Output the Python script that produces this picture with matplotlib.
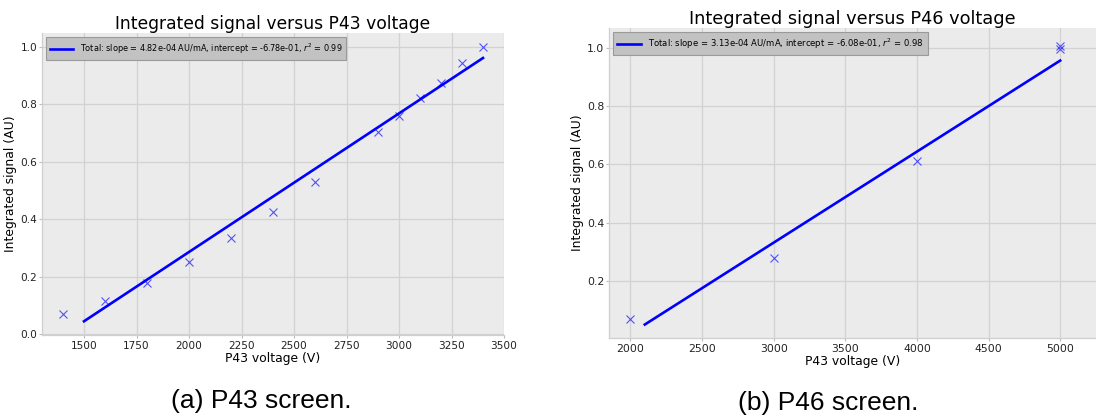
import numpy as np
import matplotlib
matplotlib.use("Agg")
import matplotlib.pyplot as plt

# ---- data ----
p43_voltage = [1400, 1600, 1800, 2000, 2200, 2400, 2600, 2900, 3000, 3100, 3200, 3300, 3400]
p43_signal = [0.071, 0.116, 0.177, 0.250, 0.336, 0.425, 0.528, 0.703, 0.758, 0.820, 0.875, 0.942, 1.000]
p43_slope, p43_intercept, p43_r2 = 4.82e-04, -6.78e-01, 0.99
p43_fit_range = [1500, 3400]

p46_voltage = [2000, 3000, 4000, 5000, 5000]
p46_signal = [0.067, 0.279, 0.610, 0.996, 1.008]
p46_slope, p46_intercept, p46_r2 = 3.13e-04, -6.08e-01, 0.98
p46_fit_range = [2100, 5000]

titles = ["Integrated signal versus P43 voltage", "Integrated signal versus P46 voltage"]
xlabel = "P43 voltage (V)"
ylabel = "Integrated signal (AU)"
captions = ["(a) P43 screen.", "(b) P46 screen."]

W, H = 1096, 420
fig = plt.figure(figsize=(W / 100, H / 100), dpi=100)
fig.patch.set_facecolor("white")

def px_axes(x0, y0, x1, y1):
    return fig.add_axes([x0 / W, 1 - y1 / H, (x1 - x0) / W, (y1 - y0) / H])

ax1 = px_axes(42, 33, 504, 335)
ax2 = px_axes(609, 28, 1096, 338)

def style(ax, ls):
    ax.set_facecolor("#ebebeb")
    ax.grid(True, color="#d2d2d2", linewidth=0.9)
    ax.set_axisbelow(True)
    for s in ["top", "right"]:
        ax.spines[s].set_visible(False)
    for s in ["left", "bottom"]:
        ax.spines[s].set_color("#cfcfcf")
        ax.spines[s].set_linewidth(0.9)
    ax.tick_params(colors="#bbbbbb", labelcolor="#222222", labelsize=ls, length=2.5, width=0.8)
    ax.tick_params(axis="y", pad=1)
    ax.tick_params(axis="x", pad=2)

def panel(ax, xs, ys, slope, intercept, r2, frange, title, fs_title, ls, legfs, caption, cap_x, cap_y):
    style(ax, ls)
    fx = np.linspace(frange[0], frange[1], 50)
    ax.plot(fx, slope * fx + intercept, color="blue", linewidth=1.9,
            label=f"Total: slope = {slope:.2e} AU/mA, intercept = {intercept:.2e}, $r^2$ = {r2:.2f}")
    ax.plot(xs, ys, linestyle="none", marker="x", color="blue", alpha=0.65,
            markersize=6, markeredgewidth=0.8)
    ax.set_title(title, fontsize=fs_title, pad=3)
    ax.set_xlabel(xlabel, fontsize=8.9, labelpad=0.5)
    ax.set_ylabel(ylabel, fontsize=8.9, labelpad=2)
    leg = ax.legend(loc="upper left", fontsize=legfs, frameon=True, fancybox=False,
                    handlelength=2.8, borderpad=0.5, borderaxespad=0.5)
    leg.get_frame().set_facecolor("#c2c2c2")
    leg.get_frame().set_edgecolor("#9a9a9a")
    leg.get_frame().set_alpha(1)
    leg.get_frame().set_linewidth(0.8)
    fig.text(cap_x / W, 1 - cap_y / H, caption, fontsize=19, family="Liberation Sans",
             ha="center", va="center")

panel(ax1, p43_voltage, p43_signal, p43_slope, p43_intercept, p43_r2, p43_fit_range,
      titles[0], 12.3, 7.6, 5.9, captions[0], 261, 401)
panel(ax2, p46_voltage, p46_signal, p46_slope, p46_intercept, p46_r2, p46_fit_range,
      titles[1], 12.8, 7.8, 6.1, captions[1], 828, 403)

ax2.set_xlim(1850, 5250)
ax2.set_ylim(0.003, 1.069)

fig.savefig("out.png", dpi=100)
